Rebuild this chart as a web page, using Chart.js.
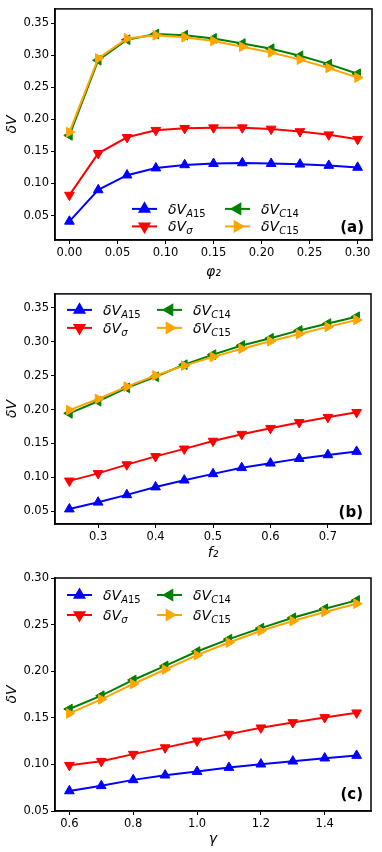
<!DOCTYPE html>
<html>
<head>
<meta charset="utf-8">
<script src="https://cdn.jsdelivr.net/npm/chart.js@4/dist/chart.umd.min.js"></script>
<style>
  body { margin: 0; background: #fff; }
  canvas { display: block; }
</style>
</head>
<body>
<canvas id="chart_a" width="382" height="285"></canvas>
<canvas id="chart_b" width="382" height="280"></canvas>
<canvas id="chart_c" width="382" height="287"></canvas>
<script>
// panel (a): dV vs phi_2
var phi2 = [0, 0.03, 0.06, 0.09, 0.12, 0.15, 0.18, 0.21, 0.24, 0.27, 0.30];
var a_A15 = [0.041, 0.090, 0.113, 0.124, 0.129, 0.131, 0.132, 0.131, 0.130, 0.128, 0.125];
var a_sigma = [0.082, 0.147, 0.172, 0.183, 0.186, 0.187, 0.187, 0.185, 0.181, 0.176, 0.169];
var a_C14 = [0.175, 0.292, 0.324, 0.333, 0.331, 0.326, 0.318, 0.310, 0.299, 0.286, 0.271];
var a_C15 = [0.180, 0.295, 0.326, 0.331, 0.328, 0.322, 0.313, 0.304, 0.293, 0.280, 0.265];
var a_xticks = [0, 0.05, 0.10, 0.15, 0.20, 0.25, 0.30];
var a_yticks = [0.05, 0.10, 0.15, 0.20, 0.25, 0.30, 0.35];

// panel (b): dV vs f_2
var f2 = [0.25, 0.30, 0.35, 0.40, 0.45, 0.50, 0.55, 0.60, 0.65, 0.70, 0.75];
var b_A15 = [0.053, 0.063, 0.074, 0.0855, 0.0956, 0.105, 0.114, 0.1207, 0.1275, 0.133, 0.138];
var b_sigma = [0.0947, 0.1057, 0.1187, 0.1308, 0.1419, 0.1535, 0.1636, 0.1724, 0.181, 0.1886, 0.1959];
var b_C14 = [0.1944, 0.2122, 0.232, 0.2484, 0.2662, 0.2811, 0.2946, 0.3052, 0.3168, 0.3269, 0.337];
var b_C15 = [0.1992, 0.2156, 0.2339, 0.2503, 0.2648, 0.2777, 0.2898, 0.3009, 0.3115, 0.322, 0.3322];
var b_xticks = [0.3, 0.4, 0.5, 0.6, 0.7];
var b_yticks = [0.05, 0.10, 0.15, 0.20, 0.25, 0.30, 0.35];

// panel (c): dV vs gamma
var gamma = [0.6, 0.7, 0.8, 0.9, 1.0, 1.1, 1.2, 1.3, 1.4, 1.5];
var c_A15 = [0.0715, 0.077, 0.0834, 0.0884, 0.0923, 0.0966, 0.1002, 0.1034, 0.1067, 0.1095];
var c_sigma = [0.0991, 0.1034, 0.111, 0.118, 0.1253, 0.1325, 0.1393, 0.145, 0.1504, 0.1554];
var c_C14 = [0.1594, 0.1737, 0.1906, 0.2057, 0.2211, 0.2344, 0.2462, 0.2573, 0.267, 0.276];
var c_C15 = [0.1547, 0.1698, 0.1863, 0.2018, 0.2172, 0.2308, 0.2434, 0.2538, 0.2635, 0.2724];
var c_xticks = [0.6, 0.8, 1.0, 1.2, 1.4];
var c_yticks = [0.05, 0.10, 0.15, 0.20, 0.25, 0.30];

var series_names = ["A15", "sigma", "C14", "C15"];
var series_colors = ["#0000ff", "#ff0000", "#008000", "#ffa500"];
var series_rotation = [0, 180, -90, 90];

var FONT = "'DejaVu Sans', sans-serif";

function points(xs, ys) {
    var out = [];
    for (var i = 0; i < xs.length; i++) {
        out.push({x: xs[i], y: ys[i]});
    }
    return out;
}

//draws box, legend and the panel tag
var decorPlugin = {
    id: "decor",
    afterDatasetsDraw: function(chart) {
        var ctx = chart.ctx;
        var area = chart.chartArea;
        var opts = chart.options.plugins.decor;

        ctx.save();
        ctx.strokeStyle = "#000";
        ctx.lineWidth = 1.5;
        ctx.strokeRect(area.left, area.top, area.right - area.left, area.bottom - area.top);

        //legend, column-major like matplotlib
        for (var i = 0; i < 4; i++) {
            var col = Math.floor(i / 2);
            var row = i % 2;
            var lx = area.left + opts.legendX[col];
            var ly = area.top + opts.legendY[row];
            ctx.strokeStyle = series_colors[i];
            ctx.lineWidth = 2;
            ctx.beginPath();
            ctx.moveTo(lx, ly);
            ctx.lineTo(lx + 25, ly);
            ctx.stroke();
            Chart.helpers.drawPoint(ctx, {
                pointStyle: "triangle",
                rotation: series_rotation[i],
                radius: 5.6,
                borderWidth: 1
            }, lx + 12.5, ly);
            ctx.fillStyle = series_colors[i];
            ctx.fill();

            ctx.fillStyle = "#000";
            ctx.textBaseline = "alphabetic";
            ctx.textAlign = "left";
            var tx = lx + 36;
            ctx.font = "italic 14px " + FONT;
            ctx.fillText("\u03b4V", tx, ly + 5);
            tx += ctx.measureText("\u03b4V").width;
            var sub = series_names[i];
            if (sub == "sigma") {
                ctx.font = "italic 10px " + FONT;
                ctx.fillText("\u03c3", tx, ly + 8);
            } else {
                ctx.font = "italic 10px " + FONT;
                ctx.fillText(sub[0], tx, ly + 8);
                tx += ctx.measureText(sub[0]).width;
                ctx.font = "10px " + FONT;
                ctx.fillText(sub.slice(1), tx, ly + 8);
            }
        }

        ctx.font = "bold 15px " + FONT;
        ctx.fillStyle = "#000";
        ctx.textAlign = "right";
        ctx.fillText(opts.tag, area.right - 8, area.bottom - opts.tagBottom);
        ctx.restore();
    }
};

function makeChart(id, xs, ys_list, xticks, yticks, xrange, yrange, xdec, xtitle, layout) {
    var datasets = [];
    for (var i = 0; i < 4; i++) {
        datasets.push({
            label: series_names[i],
            data: points(xs, ys_list[i]),
            borderColor: series_colors[i],
            backgroundColor: series_colors[i],
            borderWidth: 2,
            pointStyle: "triangle",
            pointRotation: series_rotation[i],
            pointRadius: 5.6,
            pointBorderWidth: 1,
            order: 4 - i,
            tension: 0
        });
    }

    return new Chart(document.getElementById(id), {
        type: "line",
        data: { datasets: datasets },
        options: {
            responsive: false,
            animation: false,
            events: [],
            layout: { padding: { top: layout.top, right: layout.right, left: 0, bottom: 0 } },
            plugins: {
                legend: { display: false },
                tooltip: { enabled: false },
                decor: { tag: layout.tag, tagBottom: layout.tagBottom, legendX: layout.legendX, legendY: layout.legendY }
            },
            scales: {
                x: {
                    type: "linear",
                    min: xrange[0],
                    max: xrange[1],
                    afterBuildTicks: function(scale) {
                        scale.ticks = xticks.map(function(v) { return {value: v}; });
                    },
                    afterFit: function(scale) { scale.height = layout.xAxisH; },
                    grid: { drawOnChartArea: false, drawTicks: true, tickLength: 4, color: "#000", tickWidth: 1 },
                    border: { display: true, color: "#000", width: 1.5 },
                    ticks: {
                        color: "#000",
                        font: { family: FONT, size: 11.5 },
                        padding: 2,
                        maxRotation: 0,
                        callback: function(v) { return Number(v).toFixed(xdec); }
                    },
                    title: {
                        display: true,
                        text: xtitle,
                        color: "#000",
                        font: { family: FONT, size: 14, style: "italic" },
                        padding: { top: 0, bottom: layout.xTitlePad }
                    }
                },
                y: {
                    type: "linear",
                    min: yrange[0],
                    max: yrange[1],
                    afterBuildTicks: function(scale) {
                        scale.ticks = yticks.map(function(v) { return {value: v}; });
                    },
                    afterFit: function(scale) { scale.width = 55; },
                    grid: { drawOnChartArea: false, drawTicks: true, tickLength: 4, color: "#000", tickWidth: 1 },
                    border: { display: true, color: "#000", width: 1.5 },
                    ticks: {
                        color: "#000",
                        font: { family: FONT, size: 11.5 },
                        padding: 2,
                        callback: function(v) { return Number(v).toFixed(2); }
                    },
                    title: {
                        display: true,
                        text: "\u03b4V",
                        color: "#000",
                        font: { family: FONT, size: 14, style: "italic" },
                        padding: { top: 4, bottom: 0 }
                    }
                }
            }
        },
        plugins: [decorPlugin]
    });
}

makeChart("chart_a", phi2, [a_A15, a_sigma, a_C14, a_C15], a_xticks, a_yticks,
    [-0.015, 0.315], [0.012, 0.372], 2, "\u03c6\u2082",
    { top: 5, right: 10, xAxisH: 45, xTitlePad: 4, tag: "(a)", tagBottom: 8,
      legendX: [77, 170], legendY: [200, 217.5] });

makeChart("chart_b", f2, [b_A15, b_sigma, b_C14, b_C15], b_xticks, b_yticks,
    [0.225, 0.775], [0.031, 0.3707], 1, "f\u2082",
    { top: 4, right: 11, xAxisH: 41, xTitlePad: 3, tag: "(b)", tagBottom: 7,
      legendX: [12, 102], legendY: [16, 34] });

makeChart("chart_c", gamma, [c_A15, c_sigma, c_C14, c_C15], c_xticks, c_yticks,
    [0.555, 1.545], [0.05, 0.30], 1, "\u03b3",
    { top: 13, right: 11, xAxisH: 41, xTitlePad: 4, tag: "(c)", tagBottom: 12,
      legendX: [12, 102], legendY: [17, 37] });
</script>
</body>
</html>
